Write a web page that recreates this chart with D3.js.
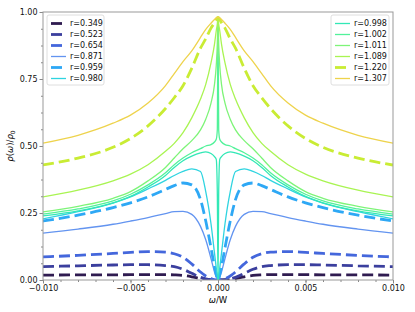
<!DOCTYPE html>
<html>
<head>
<meta charset="utf-8">
<script src="https://cdn.jsdelivr.net/npm/d3@7"></script>
<style>
  body { margin: 0; background: #fff; }
  text { font-family: "DejaVu Sans", sans-serif; }
</style>
</head>
<body>
<div id="chart"></div>
<script>
// frequency grid (omega / W)
var omega = [-0.01, -0.008, -0.006, -0.005, -0.004, -0.003, -0.0025, -0.002, -0.0015, -0.001, -0.0007, -0.0004, -0.0002, -0.0001, -0.00004,
  0,
  0.00004, 0.0001, 0.0002, 0.0004, 0.0007, 0.001, 0.0015, 0.002, 0.0025, 0.003, 0.004, 0.005, 0.006, 0.008, 0.01];

var rLabels = ["0.349", "0.523", "0.654", "0.871", "0.959", "0.980", "0.998", "1.002", "1.011", "1.089", "1.220", "1.307"];

var rho0349 = [0.018, 0.019, 0.019, 0.02, 0.02, 0.02, 0.019, 0.017, 0.012, 0.005, 0.002, 0.0005, 0.0002, 0, 0, 0, 0, 0, 0.0002, 0.0005, 0.002, 0.005, 0.012, 0.017, 0.019, 0.02, 0.02, 0.02, 0.019, 0.019, 0.018];
var rho0523 = [0.05, 0.053, 0.056, 0.057, 0.057, 0.054, 0.05, 0.04, 0.025, 0.01, 0.004, 0.001, 0.0005, 0.0002, 0, 0, 0, 0.0002, 0.0005, 0.001, 0.004, 0.01, 0.025, 0.04, 0.05, 0.054, 0.057, 0.057, 0.056, 0.053, 0.05];
var rho0654 = [0.086, 0.092, 0.099, 0.103, 0.106, 0.104, 0.098, 0.085, 0.06, 0.03, 0.015, 0.005, 0.001, 0.0003, 0, 0, 0, 0.0003, 0.001, 0.005, 0.015, 0.03, 0.06, 0.085, 0.098, 0.104, 0.106, 0.103, 0.099, 0.092, 0.086];
var rho0871 = [0.175, 0.19, 0.208, 0.22, 0.233, 0.248, 0.255, 0.256, 0.245, 0.2, 0.15, 0.08, 0.03, 0.01, 0.002, 0, 0.002, 0.01, 0.03, 0.08, 0.15, 0.2, 0.245, 0.256, 0.255, 0.248, 0.233, 0.22, 0.208, 0.19, 0.175];
var rho0959 = [0.22, 0.242, 0.27, 0.288, 0.31, 0.338, 0.352, 0.362, 0.355, 0.3, 0.22, 0.12, 0.05, 0.02, 0.005, 0, 0.005, 0.02, 0.05, 0.12, 0.22, 0.3, 0.355, 0.362, 0.352, 0.338, 0.31, 0.288, 0.27, 0.242, 0.22];
var rho0980 = [0.228, 0.255, 0.287, 0.31, 0.34, 0.372, 0.39, 0.405, 0.415, 0.405, 0.33, 0.21, 0.1, 0.045, 0.015, 0, 0.015, 0.045, 0.1, 0.21, 0.33, 0.405, 0.415, 0.405, 0.39, 0.372, 0.34, 0.31, 0.287, 0.255, 0.228];
var rho0998 = [0.239, 0.258, 0.288, 0.312, 0.347, 0.39, 0.42, 0.445, 0.462, 0.474, 0.478, 0.472, 0.46, 0.45, 0.33, 0, 0.33, 0.45, 0.46, 0.472, 0.478, 0.474, 0.462, 0.445, 0.42, 0.39, 0.347, 0.312, 0.288, 0.258, 0.239];
var rho1002 = [0.246, 0.265, 0.295, 0.32, 0.355, 0.4, 0.43, 0.455, 0.475, 0.49, 0.5, 0.505, 0.515, 0.525, 0.56, 0.98, 0.56, 0.525, 0.515, 0.505, 0.5, 0.49, 0.475, 0.455, 0.43, 0.4, 0.355, 0.32, 0.295, 0.265, 0.246];
var rho1011 = [0.254, 0.275, 0.305, 0.33, 0.37, 0.42, 0.455, 0.49, 0.52, 0.56, 0.6, 0.66, 0.73, 0.8, 0.88, 0.98, 0.88, 0.8, 0.73, 0.66, 0.6, 0.56, 0.52, 0.49, 0.455, 0.42, 0.37, 0.33, 0.305, 0.275, 0.254];
var rho1089 = [0.31, 0.335, 0.37, 0.395, 0.43, 0.48, 0.51, 0.55, 0.605, 0.675, 0.73, 0.81, 0.88, 0.93, 0.955, 0.98, 0.955, 0.93, 0.88, 0.81, 0.73, 0.675, 0.605, 0.55, 0.51, 0.48, 0.43, 0.395, 0.37, 0.335, 0.31];
var rho1220 = [0.429, 0.455, 0.495, 0.528, 0.575, 0.64, 0.68, 0.725, 0.79, 0.865, 0.9, 0.94, 0.96, 0.972, 0.978, 0.98, 0.978, 0.972, 0.96, 0.94, 0.9, 0.865, 0.79, 0.725, 0.68, 0.64, 0.575, 0.528, 0.495, 0.455, 0.429];
var rho1307 = [0.511, 0.54, 0.585, 0.615, 0.66, 0.725, 0.77, 0.815, 0.855, 0.905, 0.935, 0.958, 0.972, 0.978, 0.98, 0.982, 0.98, 0.978, 0.972, 0.958, 0.935, 0.905, 0.855, 0.815, 0.77, 0.725, 0.66, 0.615, 0.585, 0.54, 0.511];

var xTicks = [-0.01, -0.005, 0, 0.005, 0.01];
var yTicks = [0, 0.25, 0.5, 0.75, 1];

var series = [rho0349, rho0523, rho0654, rho0871, rho0959, rho0980, rho0998, rho1002, rho1011, rho1089, rho1220, rho1307];

// styles
var colors = ["#2f1b50", "#3b3f9e", "#4467dc", "#6394f0", "#2ea8f5", "#2fd4e0", "#32e8b6", "#52f29a", "#7ef478", "#a9f452", "#c9ec34", "#eed34c"];
var dashed = [true, true, true, false, true, false, false, false, false, false, true, false];

var width = 415, height = 312;
var margin = {top: 12, right: 22, bottom: 32, left: 43};
var w = width - margin.left - margin.right;
var h = height - margin.top - margin.bottom;

var svg = d3.select("#chart").append("svg")
  .attr("width", width)
  .attr("height", height);

var g = svg.append("g")
  .attr("transform", "translate(" + margin.left + "," + margin.top + ")");

var x = d3.scaleLinear().domain([-0.01, 0.01]).range([0, w]);
var y = d3.scaleLinear().domain([0, 1]).range([h, 0]);

g.append("clipPath").attr("id", "clip")
  .append("rect").attr("width", w).attr("height", h);

var line = d3.line()
  .x(function(d, i) { return x(omega[i]); })
  .y(function(d) { return y(d); })
  .curve(d3.curveMonotoneX);

g.append("g").attr("clip-path", "url(#clip)")
  .selectAll("path")
  .data(series)
  .enter()
  .append("path")
  .attr("d", line)
  .attr("fill", "none")
  .attr("stroke", function(d, i) { return colors[i]; })
  .attr("stroke-width", function(d, i) { return dashed[i] ? 2.8 : 1.3; })
  .attr("stroke-dasharray", function(d, i) { return dashed[i] ? "11,5" : null; });

// axes: minor then major
var xMinor = d3.range(-10, 11).map(function(v) { return v / 1000; });
var yMinor = d3.range(0, 17).map(function(v) { return v * 0.0625; });

g.append("g").attr("transform", "translate(0," + h + ")")
  .call(d3.axisBottom(x).tickValues(xMinor).tickSize(2).tickFormat(""));
g.append("g")
  .call(d3.axisLeft(y).tickValues(yMinor).tickSize(2).tickFormat(""));

var xAxis = g.append("g").attr("transform", "translate(0," + h + ")")
  .call(d3.axisBottom(x).tickValues(xTicks).tickSize(3.5).tickPadding(1.5).tickFormat(d3.format(".3f")));
var yAxis = g.append("g")
  .call(d3.axisLeft(y).tickValues(yTicks).tickSize(3.5).tickPadding(2).tickFormat(d3.format(".2f")));

g.selectAll(".domain").remove();
g.selectAll(".tick line").attr("stroke", "#888");
g.selectAll(".tick text").attr("font-size", 8).attr("fill", "#111").attr("font-family", "DejaVu Sans");

g.append("rect")
  .attr("width", w).attr("height", h)
  .attr("fill", "none").attr("stroke", "#999").attr("stroke-width", 1);

// labels
svg.append("text")
  .attr("x", margin.left + x(0)).attr("y", 303)
  .attr("text-anchor", "middle").attr("font-size", 8.5)
  .html('<tspan font-style="italic">ω</tspan>/W');

var yl = svg.append("text")
  .attr("transform", "translate(13," + (margin.top + h / 2) + ") rotate(-90)")
  .attr("text-anchor", "middle").attr("font-size", 8.5);
yl.append("tspan").attr("font-style", "italic").text("ρ");
yl.append("tspan").text("(");
yl.append("tspan").attr("font-style", "italic").text("ω");
yl.append("tspan").text(")/");
yl.append("tspan").attr("font-style", "italic").text("ρ");
yl.append("tspan").attr("font-size", 6).attr("dy", 2).text("0");

// legends
var drawLegend = function(idx, lx, ly, lw) {
  var lg = svg.append("g").attr("transform", "translate(" + lx + "," + ly + ")");
  lg.append("rect")
    .attr("width", lw).attr("height", 70).attr("rx", 2)
    .attr("fill", "#fff").attr("fill-opacity", 0.8)
    .attr("stroke", "#d6d6d6").attr("stroke-width", 0.8);
  idx.forEach(function(k, j) {
    var yy = 8.5 + j * 11;
    lg.append("line")
      .attr("x1", 4).attr("x2", 19).attr("y1", yy).attr("y2", yy)
      .attr("stroke", colors[k])
      .attr("stroke-width", dashed[k] ? 2.8 : 1.3)
      .attr("stroke-dasharray", dashed[k] ? "11,5" : null);
    lg.append("text")
      .attr("x", 23).attr("y", yy).attr("dy", "0.35em")
      .attr("font-size", 8).attr("fill", "#111")
      .text("r=" + rLabels[k]);
  });
};
drawLegend([0, 1, 2, 3, 4, 5], 47, 15, 57);
drawLegend([6, 7, 8, 9, 10, 11], 331, 15, 58);
</script>
</body>
</html>
